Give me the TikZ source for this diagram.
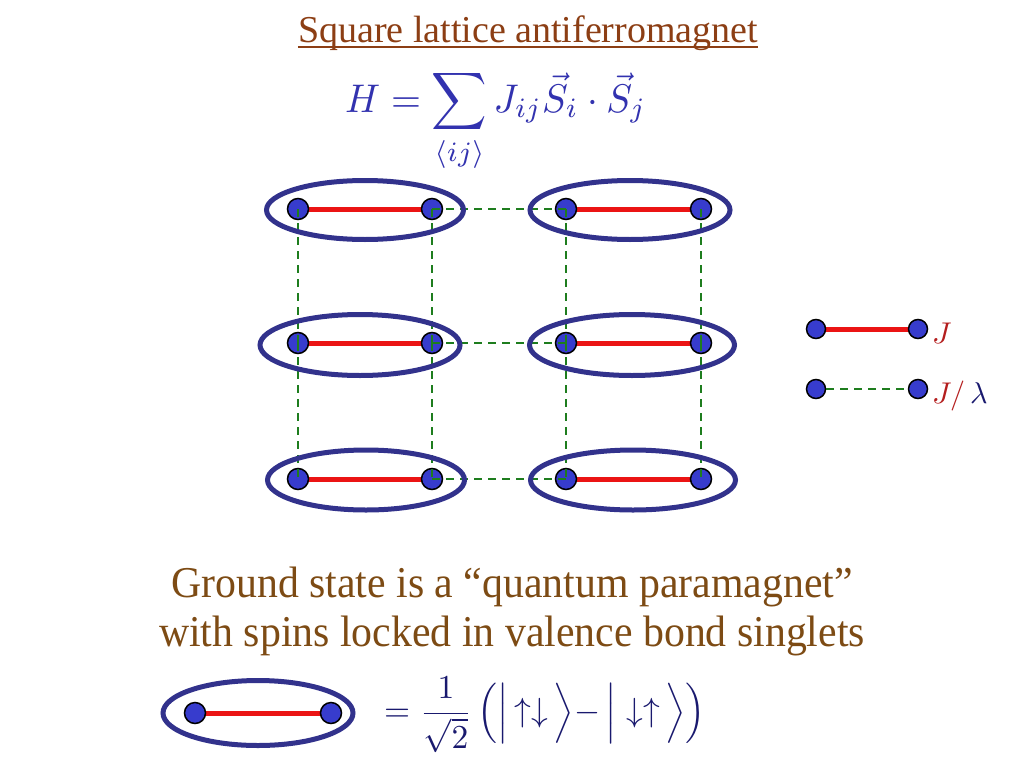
\documentclass[tikz,border=0pt]{standalone}
\usepackage{graphicx}
\usepackage[no-math]{fontspec}
\setmainfont{Liberation Serif}
\usetikzlibrary{shapes.geometric}
\definecolor{titlebrown}{RGB}{140,62,20}
\definecolor{textbrown}{RGB}{125,75,20}
\definecolor{eqblue}{RGB}{50,50,175}
\definecolor{ringblue}{RGB}{50,50,140}
\definecolor{dotblue}{RGB}{55,60,205}
\definecolor{bondred}{RGB}{235,20,20}
\definecolor{dashgreen}{RGB}{30,125,30}
\definecolor{navy}{RGB}{25,25,110}
\definecolor{jred}{RGB}{180,30,30}
\tikzset{
  spin/.style={circle, draw=black, line width=1.5pt, fill=dotblue, minimum size=21pt, inner sep=0pt},
  lspin/.style={spin, minimum size=19pt},
  ring/.style={ellipse, draw=ringblue, line width=5pt, minimum width=198pt, minimum height=60pt, inner sep=0pt},
  bond/.style={bondred, line width=5pt},
  weak/.style={dashgreen, line width=2pt, dash pattern=on 8pt off 6pt},
}
\begin{document}
\begin{tikzpicture}[x=1pt,y=-1pt]
\useasboundingbox (0,0) rectangle (1024,768);
% texts
\node[anchor=base, text=titlebrown, font=\fontsize{38}{44}\selectfont, inner sep=0pt] (title) at (528,42) {Square lattice antiferromagnet};
\draw[titlebrown, line width=2.2pt] ([yshift=-5pt]title.base west) -- ([yshift=-5pt]title.base east);
\node[anchor=base west, text=eqblue, inner sep=0pt] (ham) at (345,112) {\scalebox{3.85}[4.0]{$\displaystyle H=\sum_{\langle ij\rangle}J_{ij}\vec S_i\cdot\vec S_j$}};
\node[anchor=base, text=textbrown, font=\fontsize{44}{50}\selectfont, inner sep=0pt, xscale=0.95] (gs1) at (512,597) {Ground state is a “quantum paramagnet”};
\node[anchor=base, text=textbrown, font=\fontsize{44}{50}\selectfont, inner sep=0pt, xscale=0.95] (gs2) at (512,646) {with spins locked in valence bond singlets};
% lattice spins
\foreach \r/\y in {1/209,2/343,3/479}{
  \foreach \c/\x in {1/298,2/432,3/566,4/701}{
    \coordinate (p\r\c) at (\x,\y);
  }
  \draw[bond] (p\r1) -- (p\r2);
  \draw[bond] (p\r3) -- (p\r4);
}
\foreach \r in {1,2,3}{
  \foreach \c in {1,2,3,4}{
    \node[spin] (s\r\c) at (p\r\c) {};
  }
}
% weak bonds
\foreach \r in {1,2,3}{
  \draw[weak] (s\r2.center) -- (s\r3.center);
}
\foreach \c in {1,2,3,4}{
  \draw[weak] (s1\c.center) -- (s2\c.center);
  \draw[weak] (s2\c.center) -- (s3\c.center);
}
% singlet rings
\node[ring, minimum width=197pt, minimum height=59pt] (e11) at (365,210) {};
\node[ring, minimum width=200pt, minimum height=61pt] (e21) at (360,345) {};
\node[ring, minimum width=197pt, minimum height=60pt] (e31) at (366,480) {};
\node[ring, minimum width=200pt, minimum height=59pt] (e12) at (630,210) {};
\node[ring, minimum width=205pt, minimum height=61pt] (e22) at (632,345) {};
\node[ring, minimum width=205pt, minimum height=60pt] (e32) at (633,480) {};
% legend
\coordinate (la) at (816,329);
\coordinate (lb) at (918,329);
\draw[bond] (la) -- (lb);
\node[lspin] (l1) at (la) {};
\node[lspin] (l2) at (lb) {};
\node[lspin] (l3) at (816,389) {};
\node[lspin] (l4) at (918,389) {};
\draw[weak] (l3) -- (l4);
\node[anchor=base west, text=jred, inner sep=0pt] (lj) at (932,343) {\scalebox{3}{$J$}};
\node[anchor=base west, text=jred, inner sep=0pt] (ljl) at (932,403) {\scalebox{3}{$J/\,{\color{navy}\lambda}$}};
% bottom singlet
\coordinate (ba) at (195,713);
\coordinate (bb) at (331,713);
\draw[bond] (ba) -- (bb);
\node[spin] (b1) at (ba) {};
\node[spin] (b2) at (bb) {};
\node[ring, minimum width=190pt, minimum height=65pt] (be) at (258,713) {};
\node[anchor=west, text=navy, inner sep=0pt] (eq) at (384,715) {\scalebox{3.35}[3.35]{$\displaystyle =\frac{1}{\sqrt2}\,\Bigl(\Bigl|\,\uparrow\downarrow\,\Bigr\rangle{-}\,\Bigl|\;\downarrow\uparrow\,\Bigr\rangle\Bigr)$}};
\end{tikzpicture}
\end{document}
